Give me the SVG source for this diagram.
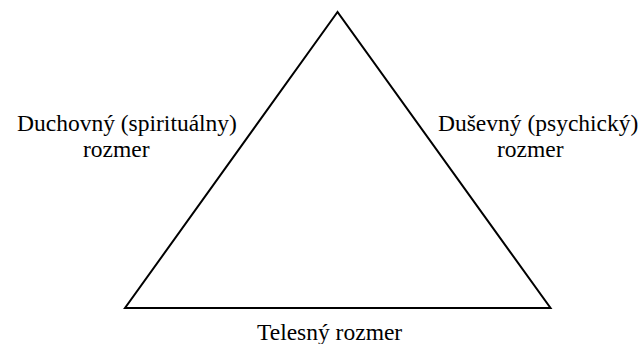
<svg xmlns="http://www.w3.org/2000/svg" width="641" height="344" viewBox="0 0 641 344">
<style>
text{font-family:'Liberation Serif','Times New Roman',serif;font-size:23.5px;fill:#000}
.e{fill:none;stroke:#000;stroke-width:2}
</style>
<rect width="641" height="344" fill="#fff"/>
<g id="connectors">
<polygon class="e" points="337.5,12 125,308 550.5,308"/>
</g>
<g id="spiritual"><text x="17" y="131">Duchovný (spirituálny)</text><text x="83" y="157">rozmer</text></g>
<g id="psychic"><text x="438" y="131">Duševný (psychický)</text><text x="497" y="157">rozmer</text></g>
<g id="body"><text x="257" y="340">Telesný rozmer</text></g>
</svg>
